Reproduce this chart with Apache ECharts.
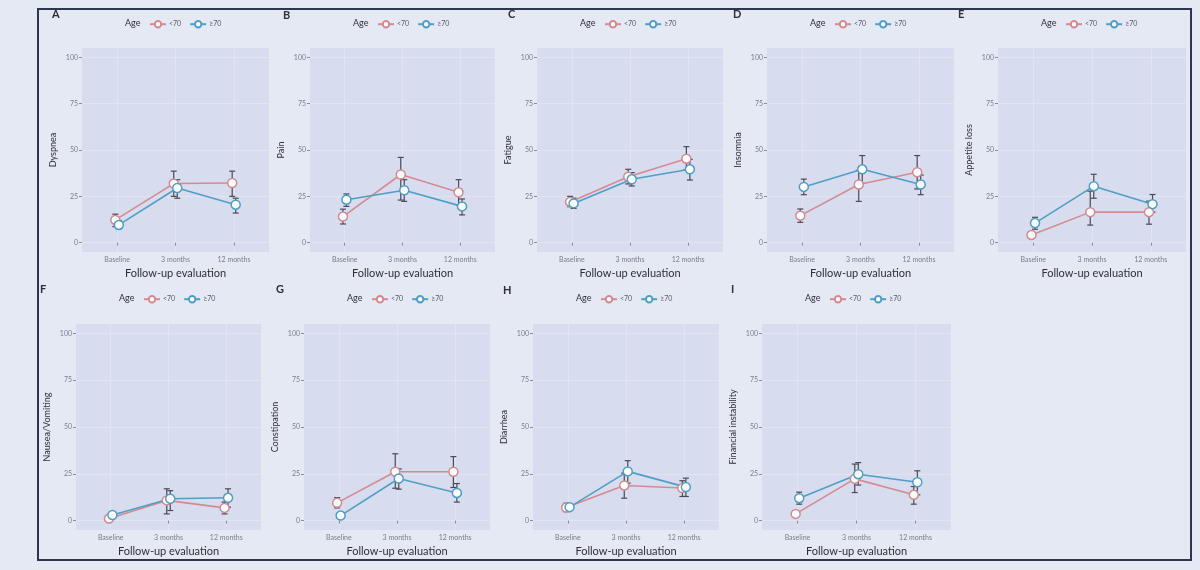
<!DOCTYPE html>
<html style="height: 100%">
<head>
    <meta charset="utf-8">
    <script src="https://cdn.jsdelivr.net/npm/echarts@6/dist/echarts.min.js"></script>
</head>
<body style="height: 100%; margin: 0; background: #e5e9f4">
    <div id="main" style="width: 1200px; height: 570px"></div>
    <script type="text/javascript">
        var timepoints = ['Baseline', '3 months', '12 months'];
        var groups = ['<70', '≥70'];
        var panelLetters = ['A', 'B', 'C', 'D', 'E', 'F', 'G', 'H', 'I'];
        var symptoms = ['Dyspnea', 'Pain', 'Fatigue', 'Insomnia', 'Appetite loss',
            'Nausea/Vomiting', 'Constipation', 'Diarrhea', 'Financial instability'];

        // mean score and error bar ends, one row per symptom
        var meanU70 = [[12.3, 31.9, 32.2], [14.1, 36.8, 27.2], [22, 35.6, 45.3], [14.6, 31.4, 38], [4.2, 16.5, 16.5],
            [1.1, 10.8, 6.8], [9.5, 26.1, 26.1], [7, 18.8, 17.4], [3.6, 22.3, 13.8]];
        var lowU70 = [[8.7, 25, 25], [10.1, 23, 20.5], [19.4, 31.7, 39.2], [11, 22.3, 29], [4.2, 9.5, 10],
            [1.1, 3.6, 3.6], [6.8, 17.3, 17.7], [4.8, 12, 12.9], [3.6, 15, 8.8]];
        var highU70 = [[15.4, 38.6, 38.6], [18.1, 46, 34], [25, 39.6, 51.8], [18.2, 39, 47], [4.2, 27.8, 22.4],
            [1.1, 17, 9.9], [12.3, 35.7, 34.2], [9.3, 25.4, 21.3], [3.6, 30.2, 18.2]];
        var meanO70 = [[9.6, 29.5, 20.5], [23.2, 28.3, 19.6], [21.2, 34.2, 39.6], [30.1, 39.6, 31.4], [10.6, 30.5, 20.8],
            [3.0, 11.7, 12.2], [2.7, 22.5, 14.8], [7.2, 26.3, 17.9], [12, 24.8, 20.5]];
        var lowO70 = [[7.5, 24, 16], [19.6, 22.3, 15], [18.5, 30.6, 33.8], [25.9, 32, 25.9], [7.3, 24, 16.5],
            [3.0, 5.4, 7.2], [2.7, 16.8, 9.9], [5.5, 20, 12.9], [8.8, 19, 13.8]];
        var highO70 = [[12, 34, 24], [26.3, 34, 23.6], [24, 37.8, 45], [34.3, 47, 36.5], [13.7, 36.9, 26],
            [3.0, 16, 17], [2.7, 27.6, 19.8], [9, 32, 22.7], [15.2, 31, 26.6]];
        var yTicks = [0, 25, 50, 75, 100];

        // layout of each small plot: left, top, width, height
        var boxes = [[82, 48, 187, 204], [310, 48, 185, 204], [537, 48, 186, 204], [767, 48, 187, 204], [998, 48, 188, 204],
            [76, 324, 185, 206], [304, 324, 186, 206], [533, 324, 186, 206], [762, 324, 189, 206]];
        var letterPos = [[56, 15], [287, 16], [512, 15], [737, 15], [962, 15], [44, 290], [280, 290], [507, 291], [735, 290]];

        var colors = ['#d48a90', '#4f9ec8'];
        var dodge = [-0.03, 0.03];
        var font = 'Lato, "Liberation Sans", sans-serif';

        var chart = echarts.init(document.getElementById('main'));

        function renderErrorBar(params, api) {
            var x = api.value(0), lo = api.value(1), hi = api.value(2);
            if (lo === hi) return;
            var top = api.coord([x, hi]);
            var bot = api.coord([x, lo]);
            var cap = 3;
            var style = { stroke: '#4a4a58', lineWidth: 1.2 };
            return {
                type: 'group',
                children: [
                    { type: 'line', shape: { x1: top[0], y1: top[1], x2: bot[0], y2: bot[1] }, style: style },
                    { type: 'line', shape: { x1: top[0] - cap, y1: top[1], x2: top[0] + cap, y2: top[1] }, style: style },
                    { type: 'line', shape: { x1: bot[0] - cap, y1: bot[1], x2: bot[0] + cap, y2: bot[1] }, style: style }
                ]
            };
        }

        var grid = [], xAxis = [], yAxis = [], series = [], legend = [], graphic = [];

        graphic.push({
            type: 'rect', left: 37, top: 8, z: 0, silent: true,
            shape: { width: 1153, height: 551 },
            style: { fill: 'transparent', stroke: '#2d3650', lineWidth: 2 }
        });

        symptoms.forEach(function (name, i) {
            var b = boxes[i];
            grid.push({ left: b[0], top: b[1], width: b[2], height: b[3], show: true, backgroundColor: '#d8dcef', borderWidth: 0 });
            xAxis.push({
                type: 'value', gridIndex: i, min: 0.4, max: 3.6,
                name: 'Follow-up evaluation', nameLocation: 'middle', nameGap: 16,
                nameTextStyle: { fontFamily: font, fontSize: 11, color: '#2e2e3a' },
                axisLine: { show: false },
                axisTick: { show: true, length: 3, customValues: [1, 2, 3], lineStyle: { color: '#8a8c9c' } },
                axisLabel: {
                    customValues: [1, 2, 3], fontFamily: font, fontSize: 7, color: '#7a7c8c', margin: 4,
                    formatter: function (v) { return timepoints[Math.round(v) - 1]; }
                },
                splitLine: { show: true, lineStyle: { color: '#e1e4f3', width: 1 } }
            });
            yAxis.push({
                type: 'value', gridIndex: i, min: -5, max: 105,
                name: name, nameLocation: 'middle', nameGap: 24,
                nameTextStyle: { fontFamily: font, fontSize: 9, color: '#2e2e3a' },
                axisLine: { show: false },
                axisTick: { show: true, length: 3, customValues: yTicks, lineStyle: { color: '#8a8c9c' } },
                axisLabel: { customValues: yTicks, fontFamily: font, fontSize: 7, color: '#7a7c8c', margin: 4 },
                splitLine: { show: true, lineStyle: { color: '#e1e4f3', width: 1 } }
            });

            var sets = [[meanU70, lowU70, highU70], [meanO70, lowO70, highO70]];
            sets.forEach(function (s, g) {
                series.push({
                    type: 'line', name: groups[g], xAxisIndex: i, yAxisIndex: i, z: 3,
                    symbol: 'circle', symbolSize: 9,
                    lineStyle: { color: colors[g], width: 1.6 },
                    itemStyle: { color: '#ffffff', borderColor: colors[g], borderWidth: 1.5 },
                    data: timepoints.map(function (t, k) { return [k + 1 + dodge[g], s[0][i][k]]; })
                });
            });
            sets.forEach(function (s, g) {
                series.push({
                    type: 'custom', name: 'bar ' + groups[g], xAxisIndex: i, yAxisIndex: i, z: 1,
                    renderItem: renderErrorBar, encode: { x: 0, y: [1, 2] },
                    data: timepoints.map(function (t, k) { return [k + 1 + dodge[g], s[1][i][k], s[2][i][k]]; }),
                    silent: true
                });
            });

            var legendTop = b[1] < 100 ? 20 : 295;
            legend.push({
                data: groups, left: b[0] + 67, top: legendTop,
                itemWidth: 16, itemHeight: 8, itemGap: 8, padding: 0,
                textStyle: { fontFamily: font, fontSize: 7, color: '#55586a', padding: [0, 0, 0, -2] }
            });
            graphic.push({
                type: 'text', left: b[0] + 43, top: legendTop - 1,
                style: { text: 'Age', font: '9px ' + font, fill: '#2e2e3a' }
            });
            graphic.push({
                type: 'text', left: letterPos[i][0] - 4, top: letterPos[i][1] - 6,
                style: { text: panelLetters[i], font: 'bold 11px ' + font, fill: '#2e2e3a' }
            });
        });

        var option = {
            backgroundColor: '#e5e9f4',
            animation: false,
            grid: grid,
            xAxis: xAxis,
            yAxis: yAxis,
            legend: legend,
            graphic: graphic,
            series: series
        };
        chart.setOption(option);
    </script>
</body>
</html>
